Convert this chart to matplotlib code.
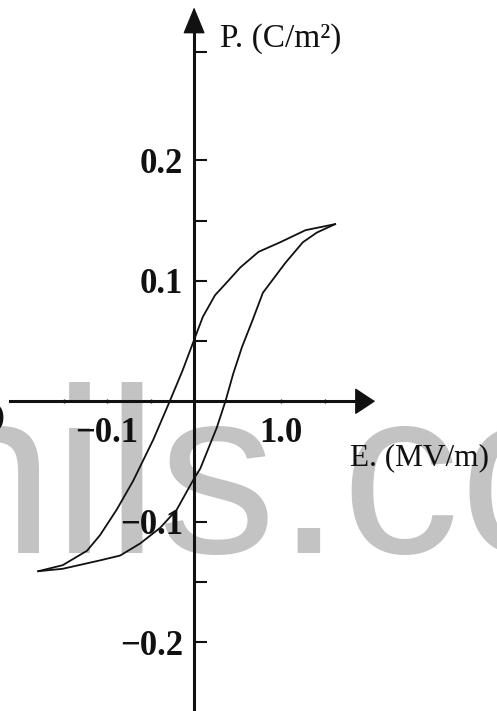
import matplotlib.pyplot as plt
from matplotlib.ticker import FixedLocator, FixedFormatter

# Hysteresis loop, E in MV/m, P in C/m^2
# rising branch (left tip -> right tip)
E_up = [-1.79, -1.51, -1.23, -1.08, -0.89, -0.70, -0.47, -0.28, -0.13, 0.0,
        0.10, 0.24, 0.38, 0.53, 0.74, 0.99, 1.28, 1.62]
P_up = [-0.141, -0.136, -0.124, -0.111, -0.090, -0.066, -0.032, 0.0, 0.026, 0.051,
        0.070, 0.088, 0.099, 0.111, 0.124, 0.132, 0.142, 0.147]
# falling branch (right tip -> left tip)
E_down = [1.62, 1.41, 1.25, 1.05, 0.79, 0.67, 0.55, 0.45, 0.36, 0.26, 0.07, 0.0,
          -0.20, -0.39, -0.62, -0.85, -1.08, -1.51, -1.79]
P_down = [0.147, 0.140, 0.132, 0.115, 0.090, 0.067, 0.045, 0.023, 0.0, -0.022, -0.056, -0.064,
          -0.090, -0.105, -0.118, -0.128, -0.132, -0.139, -0.141]

x_ticks = [-1.0, 1.0]
x_ticklabels = ['\u22120.1', '1.0']
x_minor = [-1.5, -0.5, 1.5]
y_ticks = [-0.2, -0.1, 0.1, 0.2]
y_ticklabels = ['\u22120.2', '\u22120.1', '0.1', '0.2']
y_minor = [-0.15, 0.05, 0.15, 0.29]

ink = '#111111'
serif = 'Liberation Serif'

fig = plt.figure(figsize=(4.97, 7.11), dpi=100)
ax = fig.add_axes([0, 0, 1, 1])
ax.set_zorder(1)
ax.set_xlim(-2.23, 3.48)
ax.set_ylim(-0.257, 0.333)
ax.patch.set_alpha(0)

# watermark, sits behind the axes
fig.text(-0.155, 0.222, 'hils.com', fontsize=170, family='Liberation Sans',
         color='#c3c3c3', ha='left', va='baseline', zorder=0)

# axes through the origin
for side in ['top', 'right']:
    ax.spines[side].set_visible(False)
ax.spines['left'].set_position(('data', 0))
ax.spines['bottom'].set_position(('data', 0))
ax.spines['left'].set_bounds(-0.26, 0.31)
ax.spines['bottom'].set_bounds(-2.11, 1.88)
for side in ['left', 'bottom']:
    ax.spines[side].set_linewidth(2.2)
    ax.spines[side].set_color(ink)
    ax.spines[side].set_zorder(3)

ax.annotate('', xy=(0, 0.327), xytext=(0, 0.30),
            arrowprops=dict(arrowstyle='-|>,head_length=0.85,head_width=0.35',
                            mutation_scale=20, color=ink, lw=1,
                            shrinkA=0, shrinkB=0))
ax.annotate('', xy=(2.08, 0), xytext=(1.85, 0),
            arrowprops=dict(arrowstyle='-|>,head_length=0.65,head_width=0.43',
                            mutation_scale=20, color=ink, lw=1,
                            shrinkA=0, shrinkB=0))

ax.yaxis.set_major_locator(FixedLocator(y_ticks))
ax.yaxis.set_major_formatter(FixedFormatter(y_ticklabels))
ax.yaxis.set_minor_locator(FixedLocator(y_minor))
ax.tick_params(axis='y', which='both', direction='in', length=9.5, width=1.5,
               color=ink, pad=8)
ax.tick_params(axis='y', which='major', labelsize=25)

ax.xaxis.set_major_locator(FixedLocator(x_ticks))
ax.xaxis.set_major_formatter(FixedFormatter(x_ticklabels))
ax.xaxis.set_minor_locator(FixedLocator(x_minor))
ax.tick_params(axis='x', which='both', direction='inout', length=3, width=1,
               color=ink, pad=10)
ax.tick_params(axis='x', which='major', labelsize=25)

for lab in ax.get_xticklabels() + ax.get_yticklabels():
    lab.set_family(serif)
    lab.set_fontweight('bold')
    lab.set_color(ink)

ax.plot(E_up, P_up, color=ink, lw=1.3, zorder=4)
ax.plot(E_down, P_down, color=ink, lw=1.3, zorder=4)

ax.text(0.30, 0.294, 'P. (C/m\u00b2)', fontsize=24, family=serif,
        color=ink, ha='left', va='baseline')
ax.text(1.79, -0.053, 'E. (MV/m)', fontsize=22.5, family=serif,
        color=ink, ha='left', va='baseline')
fig.text(0.011, 0.4065, 'O', fontsize=34, family=serif, fontweight='bold',
         color=ink, ha='right', va='center', zorder=2)

fig.savefig('out.png', dpi=100)
